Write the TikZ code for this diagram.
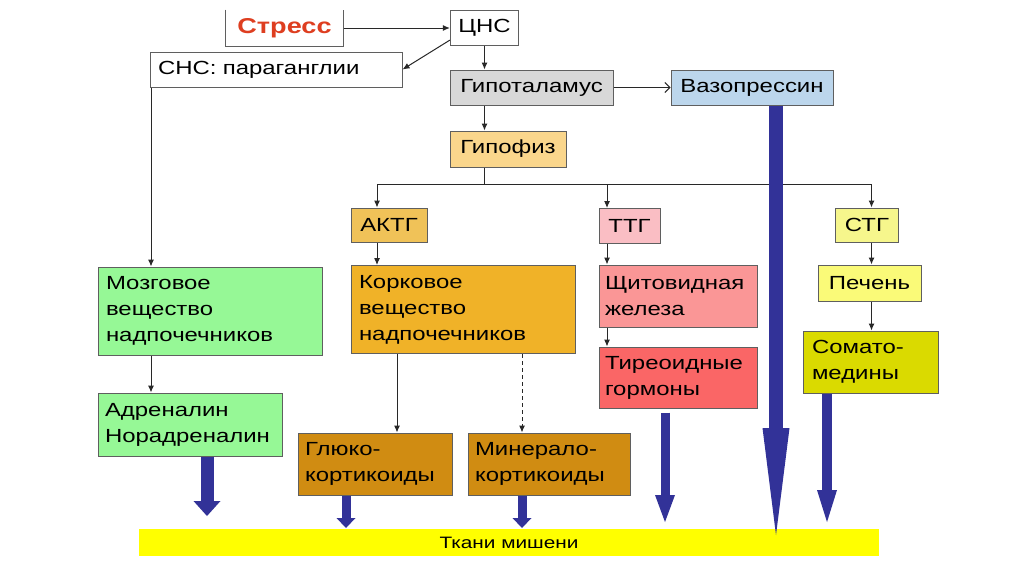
\documentclass[tikz,border=0pt]{standalone}
\usepackage{fontspec}
\newfontfamily\diagfont[FakeStretch=1.26]{Liberation Sans}
\usetikzlibrary{arrows.meta, calc}

\definecolor{boxline}{RGB}{95,95,95}
\definecolor{linegray}{RGB}{40,40,40}
\definecolor{stressred}{RGB}{222,62,32}
\definecolor{hypgray}{RGB}{216,216,216}
\definecolor{vasoblue}{RGB}{188,214,236}
\definecolor{hypoorange}{RGB}{250,214,140}
\definecolor{actorange}{RGB}{240,194,88}
\definecolor{ttgpink}{RGB}{250,190,196}
\definecolor{stgyellow}{RGB}{246,246,140}
\definecolor{medgreen}{RGB}{150,248,150}
\definecolor{cortorange}{RGB}{240,178,40}
\definecolor{corticdark}{RGB}{208,140,18}
\definecolor{thyrsalmon}{RGB}{250,150,150}
\definecolor{thyrred}{RGB}{250,102,102}
\definecolor{liveryellow}{RGB}{250,250,120}
\definecolor{somaolive}{RGB}{218,218,0}
\definecolor{tissueyellow}{RGB}{255,255,0}
\definecolor{arrowblue}{RGB}{50,50,152}

\begin{document}
\begin{tikzpicture}[x=1pt, y=-1pt,
  blk/.style={draw=boxline, line width=1pt, inner xsep=8pt, inner ysep=2pt,
              font=\diagfont\fontsize{19}{26}\selectfont, text=black},
  conn/.style={draw=linegray, line width=1pt, -{Latex[length=7pt,width=6pt]}},
  bluearrow/.style n args={3}{draw=arrowblue, line width=#1,
              -{Triangle[length=#2, width=#3, line width=0pt]}},
]

%% ============ CANVAS ============
\fill[white] (0,0) rectangle (1024,574);
\useasboundingbox (0,0) rectangle (1024,574);

%% ============ TOP: STRESS, CNS, SNS ============
\node[blk, draw=none, minimum width=117pt, minimum height=36pt,
      font=\diagfont\fontsize{21.5}{26}\selectfont\bfseries, text=stressred] (stress) at (284.5,28) {Стресс};
% box is open at the top
\draw[boxline, line width=1pt] (stress.north west) -- (stress.south west)
  -- (stress.south east) -- (stress.north east);

\node[blk, minimum width=67pt, minimum height=35pt] (cns) at (484.5,27.5) {ЦНС};
\node[blk, minimum width=252pt, minimum height=35pt, text width=236pt, align=left] (sns) at (276,69.5) {СНС: параганглии};

%% ============ HYPOTHALAMUS / PITUITARY ============
\node[blk, fill=hypgray, minimum width=163pt, minimum height=35pt] (hyp) at (531.5,87.5) {Гипоталамус};
\node[blk, fill=vasoblue, minimum width=162pt, minimum height=35pt] (vaso) at (752,87.5) {Вазопрессин};
\node[blk, fill=hypoorange, minimum width=116pt, minimum height=36pt] (hypo) at (508,149) {Гипофиз};

%% ---- tropic hormones ----
\node[blk, fill=actorange, minimum width=76pt, minimum height=34pt] (actg) at (389,225) {АКТГ};
\node[blk, fill=ttgpink, minimum width=61pt, minimum height=35pt] (ttg) at (629.5,226) {ТТГ};
\node[blk, fill=stgyellow, minimum width=63pt, minimum height=34pt] (stg) at (867,225) {СТГ};

%% ============ GLANDS ============
\node[blk, fill=medgreen, minimum width=224pt, minimum height=88pt, text width=208pt, align=left] (medulla) at (210,311)
  {Мозговое\\вещество\\надпочечников};
\node[blk, fill=medgreen, minimum width=184pt, minimum height=63pt, text width=170pt, inner xsep=7pt, align=left] (adr) at (190,424.5)
  {Адреналин\\Норадреналин};

\node[blk, fill=cortorange, minimum width=224pt, minimum height=88pt, text width=208pt, align=left] (cortex) at (463,309.5)
  {Корковое\\вещество\\надпочечников};
\node[blk, fill=corticdark, minimum width=154pt, minimum height=62pt, text width=140pt, inner xsep=7pt, align=left] (gluco) at (375,464)
  {Глюко-\\кортикоиды};
\node[blk, fill=corticdark, minimum width=162pt, minimum height=62pt, text width=148pt, inner xsep=7pt, align=left] (mineral) at (549,464)
  {Минерало-\\кортикоиды};

\node[blk, fill=thyrsalmon, minimum width=158pt, minimum height=62pt, text width=146pt, inner xsep=6pt, align=left] (thyr) at (678,296)
  {Щитовидная\\железа};
\node[blk, fill=thyrred, minimum width=158pt, minimum height=61pt, text width=146pt, inner xsep=6pt, align=left] (thyrhorm) at (678,377.5)
  {Тиреоидные\\гормоны};

\node[blk, fill=liveryellow, minimum width=103pt, minimum height=36pt] (liver) at (869.5,283) {Печень};
\node[blk, fill=somaolive, minimum width=135pt, minimum height=62pt, text width=117pt, inner xsep=9pt, align=left] (soma) at (870.5,362)
  {Сомато-\\медины};

%% ============ TARGET TISSUES ============
\node[fill=tissueyellow, minimum width=740pt, minimum height=27pt, inner sep=0pt,
      font=\diagfont\fontsize{16.5}{18}\selectfont] (tissue) at (509,542.5) {Ткани мишени};

%% ============ THIN CONNECTORS ============
\coordinate (brl) at (377,184);
\coordinate (brm) at (607,184);
\coordinate (brr) at (871.5,184);
\coordinate (xmed) at (151,0);
\coordinate (xglu) at (397,0);
\coordinate (xmin) at (522,0);

\draw[conn] (stress.east) -- (stress.east -| cns.west);
\draw[conn] (cns.-160) -- (sns.east);
\draw[conn] (cns.south) -- (cns.south |- hyp.north);
\draw[conn, -{Straight Barb[length=5pt,width=10pt]}] (hyp.east) -- (vaso.west);
\draw[conn] (cns.south |- hyp.south) -- (cns.south |- hypo.north);

% branch under the pituitary
\draw[linegray, line width=1pt] (cns.south |- hypo.south) -- (cns.south |- brl);
\draw[linegray, line width=1pt] (brl) -- (brr);
\draw[conn] (brl) -- (brl |- actg.north);
\draw[conn] (brm) -- (brm |- ttg.north);
\draw[conn] (brr) -- (brr |- stg.north);

% down the columns
\draw[conn] (sns.south -| xmed) -- (medulla.north -| xmed);
\draw[conn] (medulla.south -| xmed) -- (adr.north -| xmed);
\draw[conn] (brl |- actg.south) -- (brl |- cortex.north);
\draw[conn] (cortex.south -| xglu) -- (gluco.north -| xglu);
\draw[conn, dash pattern=on 4pt off 3pt] (cortex.south -| xmin) -- (mineral.north -| xmin);
\draw[conn] (brm |- ttg.south) -- (brm |- thyr.north);
\draw[conn] (brm |- thyr.south) -- (brm |- thyrhorm.north);
\draw[conn] (brr |- stg.south) -- (brr |- liver.north);
\draw[conn] (brr |- liver.south) -- (brr |- soma.north);

%% ============ BLUE ARROWS TO TISSUES ============
\coordinate (adrend) at (207,516);
\coordinate (gluend) at (346,528);
\coordinate (minend) at (522,528);
\coordinate (thyrend) at (665,522);
\coordinate (vasoend) at (776,535);
\coordinate (somaend) at (827,522);

\draw[bluearrow={13pt}{15pt}{27pt}] (adr.south -| adrend) -- (adrend);
\draw[bluearrow={9pt}{10pt}{19pt}] (gluco.south -| gluend) -- (gluend);
\draw[bluearrow={9pt}{10pt}{19pt}] (mineral.south -| minend) -- (minend);
\draw[bluearrow={9pt}{27pt}{20pt}] ($(thyrhorm.south -| thyrend)+(0,4)$) -- (thyrend);
\draw[bluearrow={14pt}{107pt}{27pt}] (vaso.south -| vasoend) -- (vasoend);
\draw[bluearrow={10pt}{32pt}{20pt}] (soma.south -| somaend) -- (somaend);

\end{tikzpicture}
\end{document}
